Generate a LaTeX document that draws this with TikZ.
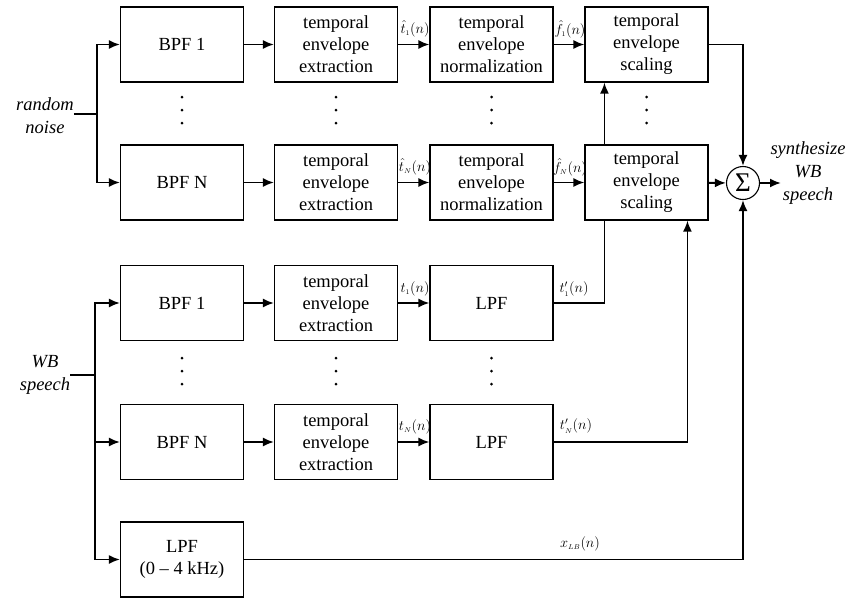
\documentclass[tikz,border=0pt]{standalone}
\usepackage{fontspec}
\setmainfont{Liberation Serif}
\usetikzlibrary{arrows.meta,backgrounds,calc}
\newcommand\tripdot[2]{\fill (#1,#2-13) circle (1.5pt) (#1,#2) circle (1.5pt) (#1,#2+13) circle (1.5pt);}
\newcommand\lblsub[1]{_{\scriptscriptstyle #1}}
\begin{document}
\begin{tikzpicture}[x=1pt,y=-1pt,
  blk/.style={draw, line width=1.1pt, fill=white, minimum width=123pt, minimum height=75pt,
    align=center, font=\rmfamily\fontsize{18.5}{22}\selectfont, inner sep=0pt},
  conn/.style={line width=1.9pt},
  arr/.style={conn, -{Latex[length=11pt,width=9pt]}},
  lbl/.style={font=\rmfamily\fontsize{14.5}{17}\selectfont, inner sep=0pt},
  side/.style={font=\rmfamily\fontsize{18.5}{23}\selectfont\itshape, align=center, inner sep=0pt}
]
\useasboundingbox (0,0) rectangle (849,598);
% row A
\node[blk] (bpfA) at (182,44.5) {BPF 1};
\node[blk] (extA) at (336,44.5) {temporal\\envelope\\extraction};
\node[blk] (norA) at (491.5,44.5) {temporal\\envelope\\normalization};
\node[blk] (scaA) at (646.5,44.5) {temporal\\envelope\\scaling};
% row B
\node[blk] (bpfB) at (182,182.5) {BPF N};
\node[blk] (extB) at (336,182.5) {temporal\\envelope\\extraction};
\node[blk] (norB) at (491.5,182.5) {temporal\\envelope\\normalization};
\node[blk] (scaB) at (646.5,182.5) {temporal\\envelope\\scaling};
% row C
\node[blk] (bpfC) at (182,303) {BPF 1};
\node[blk] (extC) at (336,303) {temporal\\envelope\\extraction};
\node[blk] (lpfC) at (491.5,303) {LPF};
% row D
\node[blk] (bpfD) at (182,442) {BPF N};
\node[blk] (extD) at (336,442) {temporal\\envelope\\extraction};
\node[blk] (lpfD) at (491.5,442) {LPF};
% row E
\node[blk] (lpfE) at (182,559.5) {LPF\\(0 -- 4 kHz)};
% sum
\node[draw, circle, minimum size=33pt, line width=1.1pt, inner sep=0pt, fill=white] (sum) at (743,183)
  {\rmfamily\fontsize{27}{27}\selectfont\raisebox{1pt}{Σ}};
% side texts
\node[side] (noise) at (45,116) {random\\noise};
\node[side] (wb) at (45,375) {WB\\speech};
\node[side] (syn) at (808,173) {synthesize\\WB\\speech};
\coordinate (nj) at (97,114);
\coordinate (wj) at (95,375);
\coordinate (out) at (781,183);
% labels
\node[lbl] (lt1) at (415,29) {$\hat{t}\lblsub{1}(n)$};
\node[lbl] (lf1) at (570,29) {$\hat{f}\lblsub{1}(n)$};
\node[lbl] (ltN) at (415,167) {$\hat{t}\lblsub{N}(n)$};
\node[lbl] (lfN) at (570,167) {$\hat{f}\lblsub{N}(n)$};
\node[lbl] (lt1b) at (415,289) {$t\lblsub{1}(n)$};
\node[lbl] (lp1) at (574,289) {$t'\lblsub{1}(n)$};
\node[lbl] (ltNb) at (415,427) {$t\lblsub{N}(n)$};
\node[lbl] (lpN) at (576,426) {$t'\lblsub{N}(n)$};
\node[lbl] (llb) at (580,544) {$x\lblsub{LB}(n)$};
% dots
\tripdot{182}{110}
\tripdot{336}{110}
\tripdot{491.5}{110}
\tripdot{646.5}{110}
\tripdot{182}{371}
\tripdot{336}{371}
\tripdot{491.5}{371}
\begin{pgfonlayer}{background}
  \draw[conn] (noise.east |- nj) -- (nj);
  \draw[arr] (nj) |- (bpfA.west);
  \draw[arr] (nj) |- (bpfB.west);
  \draw[conn] (wb.east |- wj) -- (wj);
  \draw[arr] (wj) |- (bpfC.west);
  \draw[arr] (wj) |- (bpfD.west);
  \draw[arr] (wj) |- (lpfE.west);
  \draw[arr] (bpfA) -- (extA);
  \draw[arr] (extA) -- (norA);
  \draw[arr] (norA) -- (scaA);
  \draw[arr] (bpfB) -- (extB);
  \draw[arr] (extB) -- (norB);
  \draw[arr] (norB) -- (scaB);
  \draw[arr] (bpfC) -- (extC);
  \draw[arr] (extC) -- (lpfC);
  \draw[arr] (bpfD) -- (extD);
  \draw[arr] (extD) -- (lpfD);
  \draw[arr] (scaA.east) -| (sum.north);
  \draw[arr] (scaB) -- (sum);
  \draw[arr] (lpfC.east) -| ([xshift=20pt]scaA.south west);
  \draw[arr] (lpfD.east) -| ([xshift=103pt]scaB.south west);
  \draw[arr] (lpfE.east) -| (sum.south);
  \draw[arr] (sum) -- (out);
\end{pgfonlayer}
\end{tikzpicture}
\end{document}
